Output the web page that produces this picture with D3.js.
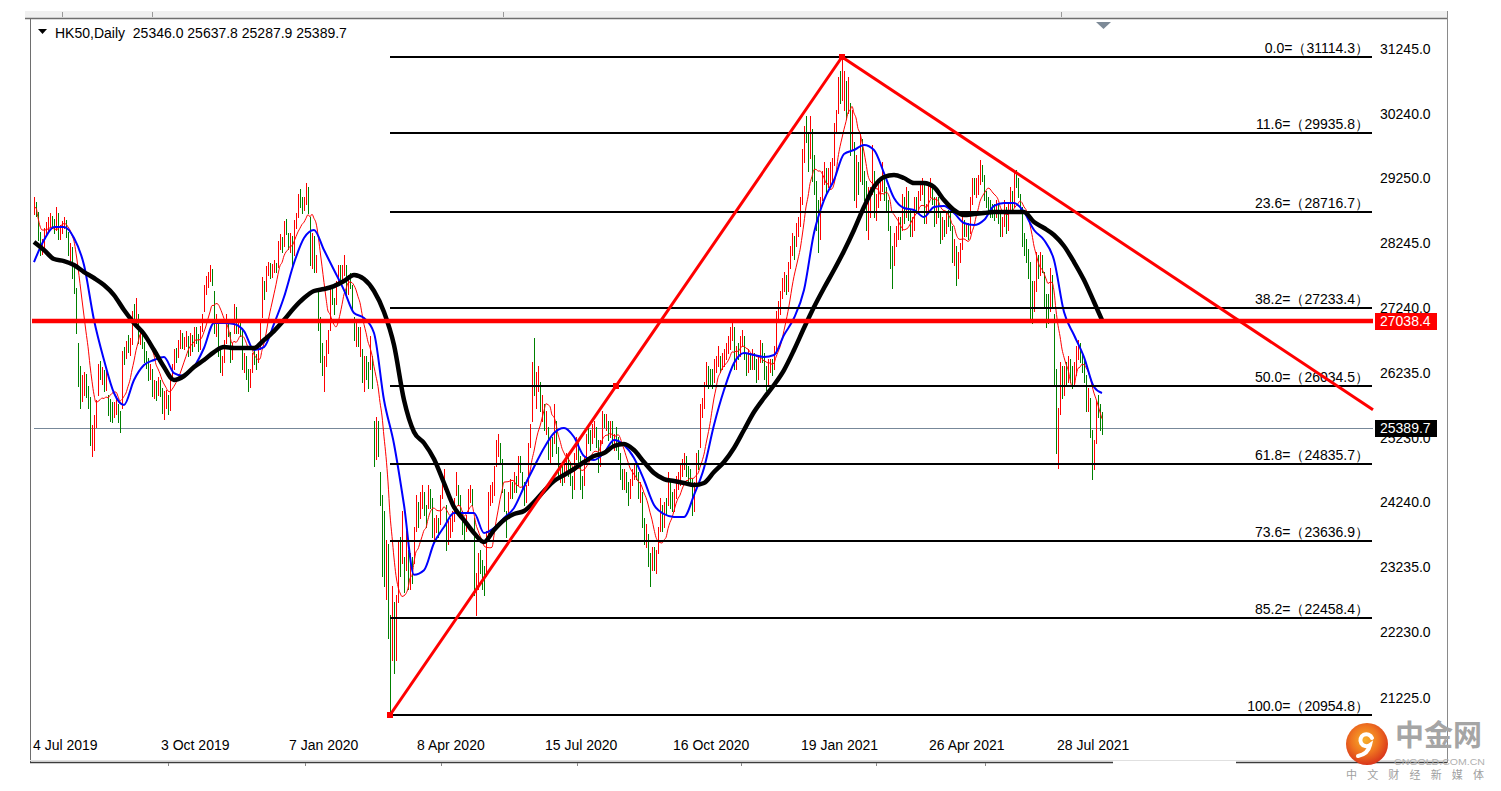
<!DOCTYPE html>
<html>
<head>
<meta charset="utf-8">
<script src="https://cdn.jsdelivr.net/npm/d3@7"></script>
<style>
  body { margin: 0; background: #fff; }
  svg text { font-family: "Liberation Sans", Arial, sans-serif; }
</style>
</head>
<body>
<svg id="chart" width="1501" height="791"></svg>
<script>
// HK50 daily bars, 4 Jul 2019 .. 27 Aug 2021 (one value per bar)
var closes = [
  28795, 28775, 28331, 28116, 28202, 28431, 28472, 28554, 28620, 28593,
  28461, 28765, 28371, 28466, 28524, 28594, 28397, 28107, 28146, 27777,
  27565, 26919, 26151, 25976, 25998, 26120, 25939, 25824, 25281, 25302,
  25495, 25734, 26291, 26231, 26270, 26048, 26179, 25680, 25664, 25615,
  25703, 25725, 25626, 25527, 26523, 26515, 26690, 26681, 26683, 27159,
  27087, 27352, 26790, 26790, 26754, 26469, 26435, 26222, 26281, 25945,
  26041, 25955, 26092, 26042, 25821, 25821, 25893, 25682, 26165, 26308,
  26521, 26503, 26664, 26848, 26719, 26725, 26786, 26566, 26797, 26667,
  26891, 26786, 26667, 26906, 27100, 27547, 27683, 27688, 27847, 27651,
  26926, 27065, 26571, 26323, 26327, 26681, 27093, 26889, 26466, 26595,
  27227, 26913, 26954, 26893, 26346, 26444, 26391, 26062, 26217, 26498,
  26494, 26436, 26645, 26994, 27687, 27508, 27843, 27884, 27800, 27871,
  27906, 27864, 28225, 28319, 28189, 28543, 28451, 28226, 28322, 27944,
  28561, 28638, 28954, 28885, 28773, 28883, 29056, 28795, 27985, 28341,
  27909, 27950, 27160, 26449, 26313, 26356, 26675, 26786, 27493, 27404,
  27241, 27583, 27823, 27730, 27816, 27960, 27530, 27656, 27655, 27309,
  26820, 26893, 26778, 26778, 26130, 26291, 26284, 26222, 26767, 26146,
  25040, 25392, 25232, 24309, 24032, 23063, 23264, 22291, 21709, 22805,
  21696, 22663, 23527, 23352, 23484, 23175, 23603, 23085, 23280, 23236,
  23750, 24253, 23970, 24300, 24435, 24146, 24006, 24380, 24330, 23794,
  23893, 23977, 23831, 24280, 24575, 24644, 23613, 23868, 23868, 23997,
  24230, 24602, 24245, 24180, 23830, 23797, 23934, 24388, 24399, 24280,
  22930, 22952, 23384, 23301, 23132, 22961, 23732, 24325, 24366, 24366,
  24770, 25057, 25057, 25049, 24480, 24301, 23776, 24344, 24481, 24465,
  24644, 24511, 24907, 24781, 24549, 24301, 24427, 25124, 25373, 26339,
  25975, 26130, 26210, 25727, 25772, 25477, 25481, 24971, 25089, 25057,
  25635, 25058, 24642, 24705, 24603, 24772, 24883, 24710, 24595, 24458,
  24946, 25102, 24930, 24531, 24377, 24890, 25244, 25230, 25183, 25347,
  25367, 25178, 24791, 25113, 25551, 25486, 25492, 25282, 25422, 25177,
  25185, 25120, 25007, 24695, 24589, 24624, 24469, 24313, 24503, 24640,
  24732, 24725, 24341, 24455, 23950, 23716, 23742, 23311, 23235, 23476,
  23275, 23459, 23767, 24242, 23880, 24193, 24119, 24650, 24242, 24158,
  24386, 24542, 24570, 24754, 24786, 24918, 24709, 24708, 24586, 24107,
  24460, 24939, 24886, 25695, 25713, 26016, 26301, 26227, 26170, 26157,
  26382, 26415, 26544, 26357, 26451, 26486, 26588, 26669, 26819, 26894,
  26341, 26567, 26532, 26728, 26835, 26506, 26304, 26502, 26410, 26505,
  26389, 26207, 26460, 26678, 26498, 26307, 26119, 26343, 26386, 26314,
  26568, 27147, 27231, 27473, 27649, 27692, 27548, 27878, 28139, 28276,
  28235, 28497, 28573, 28863, 29642, 29962, 29927, 29447, 30159, 29391,
  29297, 28551, 28284, 28893, 29249, 29307, 29114, 29289, 29319, 29476,
  30038, 30173, 30746, 30584, 30596, 30644, 30319, 30632, 29718, 30075,
  28980, 29452, 29095, 29880, 29236, 29098, 28541, 28773, 28907, 29718,
  28740, 28833, 29027, 29034, 29405, 28990, 28885, 28497, 27918, 27899,
  28336, 28338, 28578, 28378, 28939, 28675, 29008, 28699, 28454, 28497,
  28900, 28793, 28970, 29106, 29135, 28621, 28755, 29078, 29126, 28942,
  28574, 28903, 28725, 28357, 28557, 28418, 28637, 28610, 28596, 28014,
  28231, 27718, 28028, 28173, 28594, 28450, 28458, 28412, 28911, 29166,
  29113, 29124, 29151, 29468, 29297, 28966, 28918, 28787, 28781, 28742,
  28739, 28842, 28638, 28437, 28558, 28801, 28489, 28817, 29052, 28817,
  29288, 29260, 28994, 28828, 28310, 28143, 28072, 27960, 27526, 27344,
  27516, 28066, 27788, 27996, 27963, 27489, 27259, 27224, 27723, 27321,
  26192, 25086, 25473, 26315, 25961, 26235, 26194, 26426, 26204, 26179,
  26283, 26605, 26660, 26517, 26391, 26181, 25745, 25867, 25316, 24849,
  25110, 25727, 25693, 25415, 25389.7
];

var highs = [
  28960, 28880, 28720, 28420, 28300, 28480, 28560, 28640, 28700, 28660,
  28610, 28800, 28710, 28520, 28580, 28650, 28600, 28420, 28250, 28180,
  27900, 27550, 26700, 26350, 26200, 26250, 26220, 26040, 25860, 25440,
  25580, 25820, 26380, 26420, 26330, 26280, 26260, 25900, 25830, 25790,
  25790, 25880, 25760, 25650, 26580, 26640, 26730, 26820, 26780, 27200,
  27300, 27390, 27150, 26930, 26880, 26720, 26580, 26470, 26380, 26300,
  26120, 26110, 26170, 26130, 26000, 25950, 25980, 25900, 26220, 26380,
  26600, 26620, 26740, 26900, 26860, 26790, 26880, 26800, 26850, 26820,
  26950, 26950, 26830, 26960, 27150, 27600, 27730, 27800, 27900, 27840,
  27500, 27150, 27000, 26650, 26500, 26750, 27150, 27050, 26870, 26700,
  27300, 27250, 27050, 27000, 26900, 26550, 26500, 26300, 26300, 26550,
  26580, 26530, 26700, 27050, 27720, 27650, 27880, 27950, 27930, 27920,
  27980, 27940, 28280, 28380, 28340, 28580, 28620, 28400, 28400, 28350,
  28600, 28700, 29000, 29080, 28950, 28950, 29170, 29100, 28650, 28400,
  28350, 28050, 27500, 27100, 26700, 26500, 26750, 26900, 27550, 27550,
  27400, 27650, 27900, 27900, 27900, 28060, 27900, 27750, 27780, 27600,
  27100, 27000, 26950, 26950, 26600, 26500, 26500, 26400, 26800, 26500,
  25500, 25550, 25500, 24700, 24350, 24100, 23650, 23600, 22500, 22950,
  22700, 22800, 23650, 23700, 24100, 23400, 23800, 23500, 23450, 23400,
  23850, 24350, 24250, 24400, 24500, 24400, 24200, 24500, 24450, 24300,
  24000, 24050, 24000, 24350, 24650, 24750, 24200, 23950, 24000, 24100,
  24300, 24700, 24500, 24350, 24100, 23950, 24050, 24450, 24500, 24450,
  24000, 23150, 23450, 23500, 23350, 23250, 23800, 24400, 24500, 24550,
  24800, 25200, 25300, 25150, 24900, 24450, 24100, 24400, 24600, 24550,
  24700, 24650, 24950, 24950, 24700, 24550, 24500, 25150, 25450, 26400,
  26770, 26250, 26350, 26100, 25900, 25750, 25650, 25400, 25250, 25250,
  25750, 25500, 25100, 24850, 24800, 24850, 25000, 24950, 24850, 24650,
  25000, 25250, 25150, 24950, 24650, 24950, 25300, 25400, 25350, 25450,
  25500, 25400, 25200, 25200, 25650, 25600, 25600, 25500, 25500, 25500,
  25300, 25400, 25250, 25000, 24750, 24750, 24700, 24550, 24600, 24750,
  24850, 24850, 24700, 24550, 24400, 24000, 23900, 23750, 23450, 23550,
  23550, 23500, 23850, 24300, 24200, 24250, 24300, 24700, 24550, 24400,
  24450, 24650, 24700, 24850, 24900, 25000, 24950, 24800, 24750, 24600,
  24550, 25000, 25050, 25750, 25850, 26100, 26400, 26350, 26300, 26300,
  26450, 26500, 26650, 26500, 26550, 26600, 26700, 26800, 26950, 27050,
  26950, 26650, 26700, 26800, 26900, 26800, 26550, 26600, 26550, 26600,
  26550, 26450, 26500, 26750, 26700, 26550, 26350, 26450, 26450, 26450,
  26650, 27200, 27350, 27500, 27700, 27800, 27750, 27950, 28200, 28400,
  28350, 28550, 28650, 28950, 29700, 30050, 30200, 29950, 30200, 30000,
  29600, 29200, 28900, 28950, 29350, 29500, 29400, 29400, 29500, 29550,
  30100, 30300, 30800, 30900, 31114.3, 30900, 30750, 30800, 30400, 30300,
  29800, 29600, 29500, 29950, 29850, 29350, 29200, 29100, 29100, 29750,
  29350, 29000, 29200, 29250, 29500, 29300, 29100, 28900, 28500, 28200,
  28400, 28500, 28650, 28650, 29000, 28950, 29100, 29050, 28750, 28650,
  28950, 28950, 29050, 29200, 29250, 29150, 28850, 29150, 29250, 29100,
  28950, 28950, 28950, 28700, 28650, 28600, 28700, 28750, 28700, 28500,
  28300, 28200, 28100, 28250, 28650, 28600, 28550, 28550, 28950, 29250,
  29250, 29250, 29300, 29520, 29450, 29300, 29050, 28950, 28900, 28850,
  28850, 28900, 28850, 28700, 28650, 28900, 28800, 28850, 29100, 29050,
  29350, 29370, 29250, 29000, 28800, 28400, 28300, 28150, 27950, 27650,
  27650, 28100, 28050, 28100, 28050, 27800, 27450, 27450, 27850, 27750,
  27150, 26300, 25700, 26400, 26350, 26350, 26400, 26500, 26450, 26350,
  26400, 26650, 26750, 26700, 26550, 26450, 26200, 26000, 25850, 25350,
  25200, 25800, 25900, 25750, 25637.8
];

var lows = [
  28690, 28660, 28290, 28060, 28070, 28180, 28360, 28410, 28500, 28480,
  28400, 28450, 28300, 28310, 28400, 28470, 28340, 28050, 27980, 27700,
  27470, 26850, 26040, 25690, 25800, 25900, 25860, 25700, 25120, 24950,
  25050, 25400, 25900, 26150, 26060, 25960, 25980, 25580, 25500, 25480,
  25550, 25600, 25480, 25330, 25700, 26380, 26470, 26560, 26510, 26680,
  27000, 27060, 26700, 26690, 26620, 26400, 26320, 26130, 26150, 25880,
  25850, 25820, 25900, 25880, 25620, 25520, 25700, 25600, 25660, 26120,
  26300, 26400, 26480, 26620, 26620, 26600, 26650, 26500, 26520, 26580,
  26650, 26700, 26580, 26600, 26880, 27200, 27450, 27560, 27650, 27600,
  26850, 26800, 26500, 26250, 26200, 26400, 26700, 26800, 26400, 26450,
  26850, 26850, 26850, 26800, 26300, 26250, 26150, 25950, 26020, 26250,
  26380, 26300, 26400, 26600, 27100, 27380, 27500, 27750, 27700, 27720,
  27800, 27800, 27870, 28150, 28100, 28200, 28380, 28150, 28100, 27850,
  28050, 28480, 28650, 28800, 28700, 28750, 28850, 28700, 27900, 27850,
  27800, 27800, 26900, 26400, 26200, 25950, 26350, 26550, 26900, 27300,
  27150, 27300, 27600, 27650, 27650, 27750, 27450, 27450, 27550, 27200,
  26750, 26650, 26650, 26500, 26100, 25950, 26150, 26000, 26300, 26000,
  24800, 24900, 24950, 24200, 23100, 22950, 22750, 22150, 20954.8, 21800,
  21600, 21800, 22700, 23100, 23300, 22850, 23200, 22900, 22900, 23000,
  23300, 23800, 23850, 24000, 24150, 24050, 23850, 24150, 24150, 23700,
  23650, 23780, 23700, 23900, 24300, 24450, 23500, 23600, 23700, 23800,
  23950, 24350, 24200, 24100, 23750, 23650, 23800, 24100, 24250, 24200,
  22800, 22500, 22900, 23150, 22900, 22800, 23100, 23750, 24200, 24250,
  24350, 24800, 24950, 24850, 24400, 24100, 23700, 24000, 24300, 24300,
  24400, 24400, 24500, 24700, 24450, 24200, 24250, 24500, 25100, 25500,
  25900, 25700, 25950, 25650, 25500, 25350, 25300, 24900, 24850, 24950,
  25150, 25000, 24600, 24550, 24500, 24550, 24700, 24650, 24500, 24300,
  24450, 24900, 24850, 24450, 24300, 24500, 24900, 25150, 25050, 25150,
  25250, 25100, 24700, 24800, 25150, 25400, 25350, 25200, 25250, 25100,
  25050, 25050, 24900, 24600, 24450, 24450, 24400, 24200, 24300, 24500,
  24600, 24600, 24300, 24250, 23850, 23600, 23550, 23250, 22950, 23200,
  23200, 23150, 23450, 23800, 23800, 23850, 24050, 24200, 24150, 24100,
  24100, 24300, 24450, 24500, 24650, 24750, 24650, 24550, 24500, 24050,
  24100, 24500, 24750, 25100, 25550, 25700, 26050, 26000, 26050, 26000,
  26100, 26250, 26350, 26250, 26300, 26350, 26450, 26550, 26600, 26750,
  26300, 26300, 26450, 26500, 26650, 26450, 26200, 26250, 26300, 26300,
  26300, 26100, 26150, 26400, 26400, 26150, 25970, 26050, 26250, 26200,
  26300, 26550, 27050, 27150, 27400, 27500, 27450, 27500, 27850, 28050,
  28000, 28200, 28350, 28500, 28850, 29500, 29800, 29350, 29550, 29200,
  29000, 28450, 28100, 28300, 28900, 29150, 29000, 29100, 29150, 29200,
  29450, 29950, 30250, 30400, 30450, 30300, 30150, 30250, 29600, 29700,
  28900, 28800, 29000, 29200, 29150, 28900, 28450, 28300, 28650, 29000,
  28650, 28600, 28800, 28900, 29050, 28900, 28750, 28450, 27850, 27550,
  27900, 28200, 28300, 28300, 28450, 28550, 28650, 28600, 28350, 28350,
  28450, 28700, 28750, 28900, 29000, 28550, 28550, 28700, 28950, 28850,
  28500, 28550, 28650, 28250, 28300, 28350, 28400, 28500, 28450, 27950,
  27900, 27600, 27700, 27950, 28150, 28350, 28350, 28300, 28400, 28850,
  29000, 28950, 29000, 29150, 29200, 28900, 28800, 28700, 28650, 28650,
  28600, 28650, 28550, 28350, 28350, 28500, 28400, 28450, 28750, 28750,
  28800, 29100, 28950, 28750, 28200, 28050, 27950, 27700, 27050, 27000,
  27200, 27500, 27700, 27750, 27800, 27250, 26950, 27000, 27200, 27250,
  26050, 25000, 24770, 25600, 25850, 25900, 26050, 26100, 26100, 26000,
  26050, 26200, 26450, 26400, 26250, 26100, 25650, 25650, 25250, 24600,
  24750, 25150, 25550, 25350, 25287.9
];

// blue and black moving averages read every 5 bars (last one at the final bar)
var blueMA = [
  27949, 28288, 28489, 28489, 28319, 27902, 27053, 26436, 25926, 25741,
  26127, 26358, 26436, 26482, 26235, 26189, 26328, 26621, 27007, 27007,
  26992, 26883, 26590, 26636, 26992, 27408, 27933, 28319, 28443, 28134,
  27825, 27516, 27161, 27084, 26853, 25818, 25139, 24197, 23120, 23190,
  23610, 23857, 24073, 24073, 24073, 23765, 23842, 23996, 24151, 24475,
  24784, 25077, 25309, 25386, 25247, 24953, 24892, 25000, 25200, 25123,
  24923, 24583, 24197, 24058, 24012, 24012, 24351, 24768, 25432, 25972,
  26389, 26544, 26513, 26482, 26513, 26822, 27084, 27516, 28397, 28906,
  29215, 29616, 29678, 29755, 29678, 29323, 28937, 28783, 28752, 28644,
  28798, 28814, 28705, 28551, 28520, 28597, 28814, 28860, 28860, 28721,
  28443, 28289, 27980, 27177, 26822, 26482, 26019, 25926
];
var blackMA = [
  28258, 28134, 27995, 27964, 27902, 27794, 27702, 27594, 27439, 27208,
  27007, 26837, 26590, 26328, 26127, 26189, 26328, 26436, 26559, 26636,
  26621, 26621, 26621, 26744, 26883, 27053, 27239, 27393, 27501, 27532,
  27578, 27655, 27748, 27686, 27501, 27177, 26667, 25818, 25324, 25154,
  24907, 24537, 24166, 23965, 23765, 23626, 23811, 23965, 24058, 24104,
  24243, 24413, 24567, 24660, 24753, 24861, 24953, 25000, 25108, 25139,
  25046, 24861, 24691, 24598, 24567, 24537, 24506, 24537, 24706, 24861,
  25077, 25355, 25633, 25849, 26050, 26281, 26590, 26930, 27254, 27547,
  27825, 28119, 28443, 28798, 29107, 29261, 29292, 29246, 29169, 29169,
  29107, 28906, 28752, 28674, 28690, 28705, 28721, 28721, 28721, 28721,
  28566, 28474, 28366, 28196, 27949, 27671, 27331, 27053
];
var maStep = 5;
var redPeriod = 10;

var dateBars = [0, 64, 128, 192, 256, 320, 384, 448, 512];
var dateLabels = ['4 Jul 2019', '3 Oct 2019', '7 Jan 2020', '8 Apr 2020', '15 Jul 2020',
                  '16 Oct 2020', '19 Jan 2021', '26 Apr 2021', '28 Jul 2021'];
var priceTicks = [31245.0, 30240.0, 29250.0, 28245.0, 27240.0, 26235.0,
                  25230.0, 24240.0, 23235.0, 22230.0, 21225.0];

var fibLevels = ['0.0', '11.6', '23.6', '38.2', '50.0', '61.8', '73.6', '85.2', '100.0'];
var fibValues = [31114.3, 29935.8, 28716.7, 27233.4, 26034.5, 24835.7, 23636.9, 22458.4, 20954.8];
var fibLowBar = 178, fibHighBar = 404;
var trendBars = [404, 491], trendValues = [31114.3, 29330];
var levelPrice = 27038.4;
var title = 'HK50,Daily', ohlc = ['25346.0', '25637.8', '25287.9', '25389.7'];

var svg = d3.select('#chart');
var plotLeft = 30, plotRight = 1373;

var x = d3.scaleLinear().domain([0, closes.length - 1]).range([34, 1102]);
var y = d3.scaleLinear().domain([fibValues[8], fibValues[0]]).range([715, 57]);

// window frame
svg.append('rect').attr('x', 25).attr('y', 11).attr('width', 1422).attr('height', 7).attr('fill', '#f0f0f0');
svg.append('line').attr('x1', 25).attr('x2', 1447).attr('y1', 18.5).attr('y2', 18.5).attr('stroke', '#6e6e6e').attr('stroke-width', 1.5);
svg.append('line').attr('x1', 30.5).attr('x2', 30.5).attr('y1', 18).attr('y2', 763).attr('stroke', '#6e6e6e');
svg.append('line').attr('x1', 1447.5).attr('x2', 1447.5).attr('y1', 11).attr('y2', 763).attr('stroke', '#8a8a8a');
svg.append('line').attr('x1', 30).attr('x2', 1447).attr('y1', 760.5).attr('y2', 760.5).attr('stroke', '#e0e0e0');
[[30, 1113], [1236, 1447]].forEach(function (s) {
    svg.append('line').attr('x1', s[0]).attr('x2', s[1]).attr('y1', 762.5).attr('y2', 762.5).attr('stroke', '#3c3c3c').attr('stroke-width', 1.5);
});
[168, 305, 441, 577, 741, 876, 985].forEach(function (t) {
    svg.append('line').attr('x1', t + 0.5).attr('x2', t + 0.5).attr('y1', 763).attr('y2', 766).attr('stroke', '#888');
});
[62, 152, 503, 1061].forEach(function (t) {
    svg.append('line').attr('x1', t + 0.5).attr('x2', t + 0.5).attr('y1', 12).attr('y2', 17).attr('stroke', '#999');
});
svg.append('path').attr('d', 'M1096,22 L1111,22 L1103.5,29 Z').attr('fill', '#7d8a97');

var plot = svg.append('g');

// bid line
plot.append('line')
    .attr('x1', x(0)).attr('x2', plotRight)
    .attr('y1', Math.round(y(+ohlc[3])) + 0.5).attr('y2', Math.round(y(+ohlc[3])) + 0.5)
    .attr('stroke', '#778899');

// bars
plot.append('g')
    .attr('shape-rendering', 'crispEdges')
    .selectAll('line')
    .data(closes)
    .enter()
    .append('line')
    .attr('x1', function (d, i) { return Math.round(x(i)) + 0.5; })
    .attr('x2', function (d, i) { return Math.round(x(i)) + 0.5; })
    .attr('y1', function (d, i) { return Math.round(y(highs[i])); })
    .attr('y2', function (d, i) { return Math.round(y(lows[i])) + 1; })
    .attr('stroke', function (d, i) { return (i > 0 && d < closes[i - 1]) ? '#008000' : '#ff0000'; });

// moving averages
var redMA = closes.map(function (d, i) {
    return d3.mean(closes.slice(Math.max(0, i - redPeriod + 1), i + 1));
});
var line = d3.line().curve(d3.curveMonotoneX);
function maPoints(arr) {
    return arr.map(function (v, k) { return [x(Math.min(k * maStep, closes.length - 1)), y(v)]; });
}
plot.append('path')
    .attr('d', line(redMA.map(function (v, i) { return [x(i), y(v)]; })))
    .attr('fill', 'none').attr('stroke', '#ff0000').attr('stroke-width', 1);
plot.append('path')
    .attr('d', line(maPoints(blueMA)))
    .attr('fill', 'none').attr('stroke', '#0000ff').attr('stroke-width', 2).attr('stroke-linejoin', 'round');
plot.append('path')
    .attr('d', line(maPoints(blackMA)))
    .attr('fill', 'none').attr('stroke', '#000').attr('stroke-width', 4.5).attr('stroke-linejoin', 'round');

// fibonacci retracement
var fib = plot.append('g');
fib.selectAll('line')
    .data(fibValues)
    .enter()
    .append('line')
    .attr('x1', x(fibLowBar)).attr('x2', plotRight - 1)
    .attr('y1', function (d) { return Math.round(y(d)); })
    .attr('y2', function (d) { return Math.round(y(d)); })
    .attr('stroke', '#000').attr('stroke-width', 2);
fib.selectAll('text')
    .data(fibValues)
    .enter()
    .append('text')
    .attr('x', 1369)
    .attr('y', function (d) { return Math.round(y(d)) - 4; })
    .attr('text-anchor', 'end')
    .attr('font-size', 14)
    .attr('fill', '#000')
    .text(function (d, i) { return fibLevels[i] + '=\uff08' + d.toFixed(1) + '\uff09'; });

// red trend lines
var p0 = [x(fibLowBar), y(fibValues[8])], p1 = [x(fibHighBar), y(fibValues[0])];
plot.append('line')
    .attr('x1', p0[0]).attr('y1', p0[1]).attr('x2', p1[0]).attr('y2', p1[1])
    .attr('stroke', '#ff0000').attr('stroke-width', 3);
var t0 = [x(trendBars[0]), y(trendValues[0])], t1 = [x(trendBars[1]), y(trendValues[1])];
var slope = (t1[1] - t0[1]) / (t1[0] - t0[0]);
plot.append('line')
    .attr('x1', t0[0]).attr('y1', t0[1])
    .attr('x2', plotRight).attr('y2', t0[1] + slope * (plotRight - t0[0]))
    .attr('stroke', '#ff0000').attr('stroke-width', 3);
[p0, p1, [(p0[0] + p1[0]) / 2, (p0[1] + p1[1]) / 2]].forEach(function (p) {
    plot.append('rect').attr('x', p[0] - 3).attr('y', p[1] - 3).attr('width', 6).attr('height', 6).attr('fill', '#ff0000');
});

// horizontal level
plot.append('line')
    .attr('x1', 32).attr('x2', plotRight)
    .attr('y1', y(levelPrice)).attr('y2', y(levelPrice))
    .attr('stroke', '#ff0000').attr('stroke-width', 4.5);

// price axis
svg.append('g')
    .selectAll('text')
    .data(priceTicks)
    .enter()
    .append('text')
    .attr('x', 1380)
    .attr('y', function (d) { return y(d); })
    .attr('dy', '0.36em')
    .attr('font-size', 14)
    .attr('fill', '#000')
    .text(function (d) { return d.toFixed(1); });

function priceBox(v, bg) {
    var yy = y(v);
    svg.append('rect').attr('x', 1375).attr('y', Math.round(yy) - 8).attr('width', 62).attr('height', 17).attr('fill', bg);
    svg.append('text').attr('x', 1380).attr('y', yy).attr('dy', '0.36em')
        .attr('font-size', 14).attr('fill', '#fff').text(v.toFixed(1));
}
priceBox(levelPrice, '#ff0000');
priceBox(+ohlc[3], '#000');

// time axis
svg.append('g')
    .selectAll('text')
    .data(dateBars)
    .enter()
    .append('text')
    .attr('x', function (d) { return x(d) - 1; })
    .attr('y', 750)
    .attr('font-size', 14)
    .attr('fill', '#000')
    .text(function (d, i) { return dateLabels[i]; });

// title
svg.append('path').attr('d', 'M38,29 L47,29 L42.5,34 Z').attr('fill', '#000');
svg.append('text')
    .attr('x', 55).attr('y', 38)
    .attr('font-size', 14)
    .style('white-space', 'pre')
    .text(title + '  ' + ohlc.join(' '));

// watermark logo
var defs = svg.append('defs');
var grad = defs.append('radialGradient').attr('id', 'logoGrad').attr('cx', '45%').attr('cy', '40%').attr('r', '60%');
grad.append('stop').attr('offset', '0%').attr('stop-color', '#f7b12a');
grad.append('stop').attr('offset', '55%').attr('stop-color', '#ef7420');
grad.append('stop').attr('offset', '100%').attr('stop-color', '#d9361b');
svg.append('circle').attr('cx', 1367).attr('cy', 744).attr('r', 21).attr('fill', 'url(#logoGrad)');
svg.append('path')
    .attr('d', 'M1372,738 a6,6 0 1,0 -2,7 q-2,9 -12,11')
    .attr('fill', 'none').attr('stroke', '#fff').attr('stroke-width', 4).attr('stroke-linecap', 'round');
svg.append('text')
    .attr('x', 1395).attr('y', 746)
    .attr('font-size', 29).attr('font-weight', 'bold')
    .attr('fill', '#a5a5a5')
    .style('font-family', '"Noto Sans CJK SC", sans-serif')
    .text('中金网');
svg.append('text')
    .attr('x', 1394).attr('y', 765)
    .attr('font-size', 9).attr('fill', '#b0b0b0')
    .attr('textLength', 91).attr('lengthAdjust', 'spacingAndGlyphs')
    .text('CNGOLD.COM.CN');
svg.append('text')
    .attr('x', 1346).attr('y', 779)
    .attr('font-size', 11).attr('fill', '#a0a0a0')
    .attr('textLength', 138)
    .style('font-family', '"Noto Sans CJK SC", sans-serif')
    .text('中文财经新媒体');
</script>
</body>
</html>
